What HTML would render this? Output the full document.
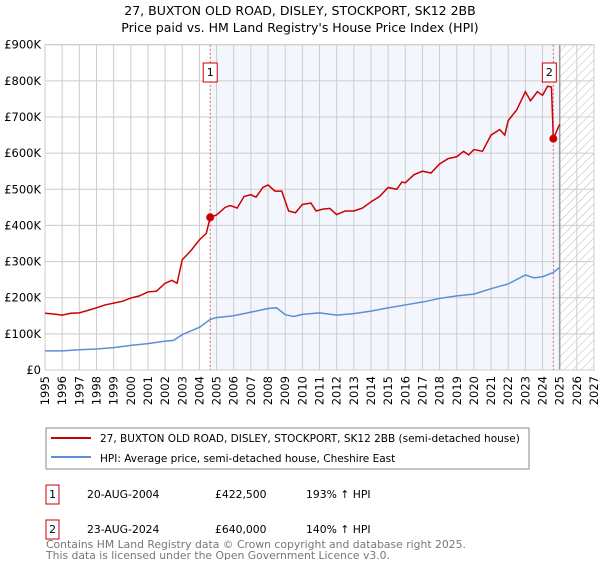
<!DOCTYPE html>
<html><head><meta charset="utf-8"><style>
body{margin:0;background:#fff;font-family:"Liberation Sans","DejaVu Sans",sans-serif;}
svg text{font-family:"DejaVu Sans","Liberation Sans",sans-serif;}
</style></head><body>
<svg id="chart" width="600" height="560" xmlns="http://www.w3.org/2000/svg">
<defs><pattern id="hatch" width="6" height="6" patternUnits="userSpaceOnUse" patternTransform="rotate(45)"><line x1="0" y1="0" x2="0" y2="6" stroke="#bbb" stroke-width="1"/></pattern></defs>
<text x="300" y="15" text-anchor="middle" font-size="12.5">27, BUXTON OLD ROAD, DISLEY, STOCKPORT, SK12 2BB</text>
<text x="300" y="32" text-anchor="middle" font-size="12.5">Price paid vs. HM Land Registry's House Price Index (HPI)</text>
<g id="plot"></g>
<rect x="46" y="428" width="483" height="41" fill="#fff" stroke="#888"/>
<line x1="51" y1="438" x2="91" y2="438" stroke="#cc0000" stroke-width="2"/>
<text x="100" y="442" font-size="10.5">27, BUXTON OLD ROAD, DISLEY, STOCKPORT, SK12 2BB (semi-detached house)</text>
<line x1="51" y1="457" x2="91" y2="457" stroke="#5b8fd4" stroke-width="2"/>
<text x="100" y="462" font-size="10.5">HPI: Average price, semi-detached house, Cheshire East</text>
<g font-size="10.8">
<rect x="46" y="485" width="13" height="19" fill="#fff" stroke="#cc0000"/><text x="52.5" y="498" text-anchor="middle">1</text>
<text x="87" y="498">20-AUG-2004</text><text x="215" y="498">£422,500</text><text x="306" y="498">193% ↑ HPI</text></g>
<g font-size="10.8">
<rect x="46" y="520" width="13" height="19" fill="#fff" stroke="#cc0000"/><text x="52.5" y="533" text-anchor="middle">2</text>
<text x="87" y="533">23-AUG-2024</text><text x="215" y="533">£640,000</text><text x="306" y="533">140% ↑ HPI</text></g>
<text x="46" y="548" font-size="10.8" fill="#777">Contains HM Land Registry data © Crown copyright and database right 2025.</text>
<text x="46" y="559" font-size="10.8" fill="#777">This data is licensed under the Open Government Licence v3.0.</text>
</svg>
<script>
const redYears=[1995,1995.5,1996,1996.5,1997,1997.5,1998,1998.5,1999,1999.5,2000,2000.5,2001,2001.5,2002,2002.4,2002.7,2003,2003.5,2004,2004.4,2004.63,2005,2005.5,2005.8,2006.2,2006.6,2007,2007.3,2007.7,2008,2008.4,2008.8,2009.2,2009.6,2010,2010.5,2010.8,2011.2,2011.6,2012,2012.5,2013,2013.5,2014,2014.5,2015,2015.5,2015.8,2016,2016.5,2017,2017.5,2018,2018.5,2019,2019.4,2019.7,2020,2020.5,2021,2021.5,2021.8,2022,2022.5,2023,2023.3,2023.7,2024,2024.3,2024.52,2024.63,2025];
const redValues=[157,155,152,157,158,165,172,180,185,190,199,205,216,218,240,248,240,305,330,360,378,422.5,429,450,455,448,480,485,478,505,512,495,495,440,435,458,462,440,445,447,430,440,440,448,465,480,505,500,520,518,540,550,545,570,585,590,605,595,610,605,650,665,650,690,720,770,745,770,760,785,783,640,680];
const hpiYears=[1995,1996,1997,1998,1999,2000,2001,2002,2002.5,2003,2003.5,2004,2004.63,2005,2006,2007,2008,2008.5,2009,2009.5,2010,2011,2012,2013,2014,2015,2016,2017,2018,2019,2020,2021,2022,2023,2023.5,2024,2024.63,2025];
const hpiValues=[53,53,56,58,62,68,73,80,82,98,108,118,140,145,150,160,170,172,153,148,154,158,152,156,163,172,180,188,198,205,210,225,238,263,255,258,270,284];
const yTicks=[0,100,200,300,400,500,600,700,800,900];
const yTickLabels=["£0","£100K","£200K","£300K","£400K","£500K","£600K","£700K","£800K","£900K"];
const xTicks=[1995,1996,1997,1998,1999,2000,2001,2002,2003,2004,2005,2006,2007,2008,2009,2010,2011,2012,2013,2014,2015,2016,2017,2018,2019,2020,2021,2022,2023,2024,2025,2026,2027];
const saleYears=[2004.63,2024.63];
const saleValues=[422.5,640];
const saleLabels=["1","2"];

const L=45,R=594,T=44.7,B=370;
const xs=y=>L+(y-1995)/(2027-1995)*(R-L);
const ys=v=>B-v/900*(B-T);
const g=document.getElementById('plot');
const NS='http://www.w3.org/2000/svg';
function mk(t,a){const e=document.createElementNS(NS,t);for(const k in a)e.setAttribute(k,a[k]);g.appendChild(e);return e;}
let e;
e=mk('rect',{x:L,y:T,width:R-L,height:B-T,fill:'#fff'});


e=mk('rect',{x:xs(saleYears[0]),y:T,width:xs(2025)-xs(saleYears[0]),height:B-T,fill:'#eef3fc',opacity:0.7});


e=mk('rect',{x:xs(2025),y:T,width:R-xs(2025),height:B-T,fill:'url(#hatch)'});


yTicks.forEach((v,i)=>{
  e=mk('line',{x1:L,x2:R,y1:ys(v),y2:ys(v),stroke:'#ccc','stroke-width':1});
  
  
  e=mk('text',{x:L-4,y:ys(v)+4,'text-anchor':'end','font-size':11.5});
  e.textContent=yTickLabels[i];
  
  
});
xTicks.forEach(yr=>{
  e=mk('line',{x1:xs(yr),x2:xs(yr),y1:T,y2:B,stroke:'#ccc','stroke-width':1});
  
  
  e=mk('text',{x:0,y:0,'font-size':11.5,'text-anchor':'end',transform:`translate(${xs(yr)+4},${B+6}) rotate(-90)`});
  e.textContent=yr;
  
  
});
e=mk('line',{x1:xs(2025),x2:xs(2025),y1:T,y2:B,stroke:'#999','stroke-width':1.5});


e=mk('rect',{x:L,y:T,width:R-L,height:B-T,fill:'none',stroke:'#ccc'});


saleYears.forEach((yr,i)=>{
  e=mk('line',{x1:xs(yr),x2:xs(yr),y1:T,y2:B,stroke:'#e06060','stroke-width':1,'stroke-dasharray':'2,2'});
  
  
});
e=mk('polyline',{points:hpiYears.map((y,i)=>xs(y)+','+ys(hpiValues[i])).join(' '),fill:'none',stroke:'#5b8fd4','stroke-width':1.5});


e=mk('polyline',{points:redYears.map((y,i)=>xs(y)+','+ys(redValues[i])).join(' '),fill:'none',stroke:'#cc0000','stroke-width':1.5});


saleYears.forEach((yr,i)=>{
  e=mk('circle',{cx:xs(yr),cy:ys(saleValues[i]),r:4,fill:'#cc0000'});
  
  
  const bx=xs(yr)-(i==0?7:11);
  e=mk('rect',{x:bx,y:63,width:14,height:19,fill:'#fff',stroke:'#cc0000'});
  
  
  e=mk('text',{x:bx+7,y:76,'text-anchor':'middle','font-size':11});
  e.textContent=saleLabels[i];
  
  
});
</script>
</body></html>
